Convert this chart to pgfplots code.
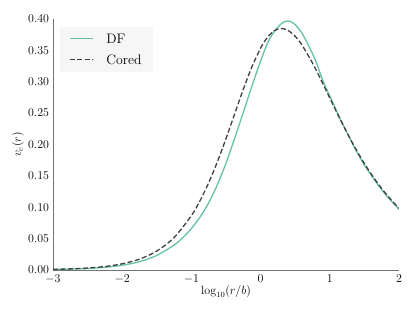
\documentclass[border=0pt]{standalone}
\usepackage{pgfplots}
\pgfplotsset{compat=1.18}
\definecolor{dfc}{RGB}{102,194,165}
\definecolor{corc}{RGB}{64,64,64}
\definecolor{legbg}{RGB}{246,246,246}
\pgfplotstableread{
x y
-3.00 0.0008
-2.75 0.0014
-2.50 0.0024
-2.25 0.0043
-2.00 0.0075
-1.75 0.0133
-1.50 0.0232
-1.25 0.0398
-1.125 0.0515
-1.00 0.0661
-0.875 0.0843
-0.75 0.1071
-0.625 0.1358
-0.50 0.1703
-0.375 0.2097
-0.25 0.2511
-0.125 0.2932
0.00 0.3330
0.05 0.3477
0.10 0.3615
0.15 0.3720
0.20 0.3805
0.25 0.3872
0.30 0.3925
0.35 0.3958
0.39 0.3968
0.43 0.3962
0.50 0.3910
0.60 0.3770
0.714 0.3530
0.80 0.3320
0.906 0.3000
1.00 0.2770
1.147 0.2417
1.25 0.2185
1.389 0.1885
1.50 0.1672
1.629 0.1462
1.75 0.1280
1.875 0.1115
2.00 0.0970
}\dftable
\pgfplotstableread{
x y
-3.00 0.000999
-2.75 0.001773
-2.50 0.003147
-2.25 0.005576
-2.00 0.009852
-1.75 0.017316
-1.50 0.030180
-1.25 0.051800
-1.00 0.086680
-0.875 0.110520
-0.75 0.139120
-0.625 0.172340
-0.50 0.209420
-0.375 0.248760
-0.25 0.287960
-0.125 0.323950
0.00 0.353550
0.05 0.362970
0.10 0.370810
0.15 0.376950
0.20 0.381360
0.25 0.384000
0.30 0.384900
0.35 0.384090
0.40 0.381670
0.50 0.372390
0.60 0.358110
0.75 0.329900
0.80 0.319270
0.90 0.297000
1.00 0.274100
1.125 0.245690
1.25 0.218460
1.375 0.193020
1.50 0.169710
1.625 0.148670
1.75 0.129870
1.875 0.113210
2.00 0.098520
}\coredtable
\begin{document}
\begin{tikzpicture}
\path[use as bounding box] (-53bp,-43bp) rectangle (362bp,270bp);
\begin{axis}[
  at={(0,0)}, anchor=south west,
  scale only axis, width=346bp, height=251bp,
  xmin=-3, xmax=2, ymin=0, ymax=0.4,
  axis x line*=bottom, axis y line*=left,
  axis line style={draw=black!55, line width=0.8pt, -},
  major tick length=0pt,
  xtick={-3,-2,-1,0,1,2},
  ytick={0,0.05,0.10,0.15,0.20,0.25,0.30,0.35,0.40},
  yticklabel style={xshift=-0.5bp, /pgf/number format/.cd, fixed, fixed zerofill, precision=2},
  scaled y ticks=false,
  tick label style={font=\fontsize{11.6}{14}\selectfont},
  xticklabel style={yshift=-1bp},
  xlabel={$\log_{10}(r/b)$},
  ylabel={$v_c(r)$},
  every axis x label/.style={at={(rel axis cs:0.5,0)}, anchor=center, yshift=-22bp, font=\fontsize{11.8}{14}\selectfont},
  every axis y label/.style={at={(rel axis cs:0,0.5)}, xshift=-35bp, rotate=90, anchor=center, font=\fontsize{11.8}{14}\selectfont},
  legend style={at={(0.02,0.968)}, anchor=north west, fill=legbg, draw=none,
    font=\fontsize{13.8}{16}\selectfont, inner xsep=9bp, inner ysep=4.5bp,
    row sep=6bp, column sep=11bp},
  legend cell align=left,
  legend image code/.code={\draw[#1] (0bp,0.5bp) -- (23bp,0.5bp);},
]
\addplot[dfc, line width=1.3bp, smooth] table[x=x,y=y] {\dftable};
\addlegendentry{DF}
\addplot[corc, line width=1.3bp, dash pattern=on 5bp off 2.5bp, smooth] table[x=x,y=y] {\coredtable};
\addlegendentry{Cored}
\end{axis}
\end{tikzpicture}
\end{document}
